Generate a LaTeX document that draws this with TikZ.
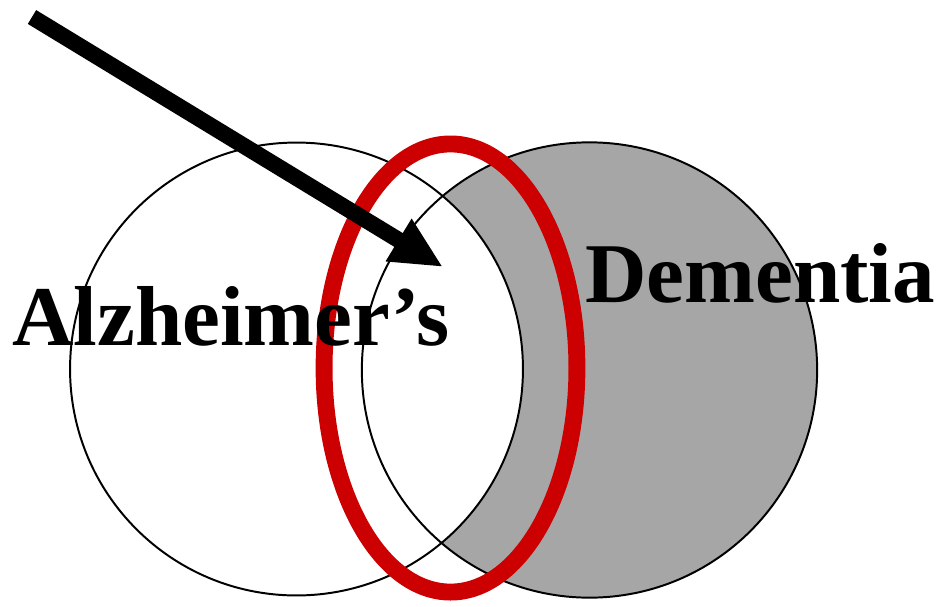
\documentclass[tikz,border=0pt]{standalone}
\usepackage{fontspec}
\setmainfont{Liberation Serif}
\usepackage{xcolor}
\usepackage{tikz}
\usetikzlibrary{arrows.meta}
\definecolor{demgray}{RGB}{166,166,166}
\definecolor{ringred}{RGB}{204,0,0}

\begin{document}
\begin{tikzpicture}[x=0.025cm, y=-0.025cm,
                    set/.style={draw=black, line width=1.4pt},
                    label/.style={inner sep=0pt, anchor=base west,
                      font=\bfseries\fontsize{60.5}{70}\selectfont},
                    >={Triangle[length=1.3cm, width=1.15cm]}]
  \useasboundingbox (0,0) rectangle (940,606);
  % the two sets
  \fill[demgray] (589.5,370) circle [radius=5.69cm];
  \fill[white] (296.5,369) circle [radius=5.66cm];
  \draw[set] (589.5,370) circle [radius=5.69cm];
  \draw[set] (296.5,369) circle [radius=5.66cm];
  % overlap ring
  \draw[ringred, line width=12pt] (450.5,368) ellipse [x radius=3.16cm, y radius=5.6cm];
  % pointer
  \coordinate (tail) at (32,17);
  \coordinate (tip) at (443,267);
  \draw[->, line width=11.5pt] (tail) -- (tip);
  % labels
  \node[label] (alz) at (12,345) {Alzheimer’s};
  \node[label] (dem) at (585,302) {Dementia};
\end{tikzpicture}
\end{document}
